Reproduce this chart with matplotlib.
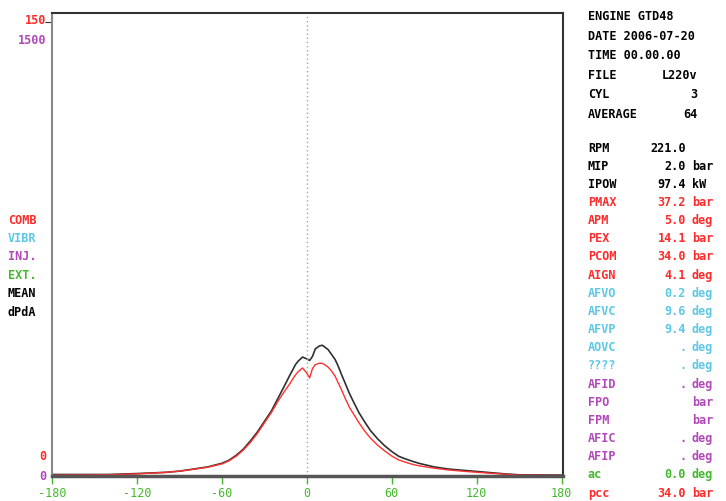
import matplotlib
matplotlib.use("Agg")
import matplotlib.pyplot as plt

# crank angle (deg) and pressure readings
angle = [-180, -140, -120, -100, -90, -80, -70, -60, -55, -50, -45, -40, -35, -30, -25,
         -20, -15, -12, -10, -8, -6, -3, 0, 2, 4, 6, 9, 11, 13, 15, 17, 20, 22, 25,
         27, 30, 33, 37, 41, 45, 50, 55, 60, 65, 70, 75, 80, 90, 100, 115, 130, 140,
         150, 180]
mean_p = [0.5, 0.5, 0.8, 1.2, 1.6, 2.3, 3.0, 4.2, 5.2, 6.8, 8.8, 11.5, 14.5, 18, 21.5,
          26, 30.5, 33.3, 35, 36.8, 38, 39.3, 38.7, 38.2, 39.5, 42, 43, 43.2, 42.5,
          41.8, 40.5, 38.5, 36.5, 33, 30.8, 27.4, 24.5, 20.8, 17.8, 15, 12.3, 10, 8.1,
          6.5, 5.6, 4.8, 4.1, 3, 2.3, 1.7, 1.1, 0.7, 0.4, 0.3]
comb_p = [0.3, 0.4, 0.7, 1.2, 1.6, 2.2, 2.9, 4.0, 5.0, 6.5, 8.5, 11, 14, 17.5, 21,
          25, 28.5, 30.5, 32, 33.4, 34.5, 35.7, 34, 32.4, 35.5, 36.8, 37.3, 37.2, 36.7,
          36, 35, 33, 31, 28, 25.8, 22.8, 20.5, 17.5, 14.8, 12.5, 10.2, 8.3, 6.6,
          5.3, 4.5, 3.8, 3.3, 2.6, 2, 1.4, 0.9, 0.6, 0.3, 0.2]

xticks = [-180, -120, -60, 0, 60, 120, 180]

channels = ["COMB", "VIBR", "INJ.", "EXT.", "MEAN", "dPdA"]
channel_colors = ["#ff2a2a", "#5cc8e6", "#b048b8", "#44b82c", "#000000", "#000000"]

header = [("ENGINE GTD48", ""), ("DATE 2006-07-20", ""), ("TIME 00.00.00", ""),
          ("FILE", "L220v"), ("CYL", "3"), ("AVERAGE", "64")]

rows = ["RPM", "MIP", "IPOW", "PMAX", "APM", "PEX", "PCOM", "AIGN", "AFVO", "AFVC",
        "AFVP", "AOVC", "????", "AFID", "FPO", "FPM", "AFIC", "AFIP", "ac", "pcc"]
row_vals = ["221.0", "2.0", "97.4", "37.2", "5.0", "14.1", "34.0", "4.1", "0.2", "9.6",
            "9.4", ".", ".", ".", "", "", ".", ".", "0.0", "34.0"]
row_units = ["", "bar", "kW", "bar", "deg", "bar", "bar", "deg", "deg", "deg",
             "deg", "deg", "deg", "deg", "bar", "bar", "deg", "deg", "deg", "bar"]
RED, CYAN, MAG, GRN = "#ff2a2a", "#5cc8e6", "#b048b8", "#44b82c"
row_colors = ["#000000"] * 3 + [RED] * 5 + [CYAN] * 5 + [MAG] * 5 + [GRN, RED]

W, H = 726, 501
fig = plt.figure(figsize=(W / 100, H / 100), dpi=100)
ax = fig.add_axes([52 / W, 1 - 476 / H, (563 - 52) / W, (476 - 13) / H])

ax.plot(angle, mean_p, color="#303030", lw=1.2, solid_joinstyle="round")
ax.plot(angle, comb_p, color="#ff3030", lw=1.0, solid_joinstyle="round")
ax.axvline(0, color="#8cbf5a", lw=1, ls=(0, (1, 2)))

ax.set_xlim(-180, 181)
ax.set_ylim(0, 153)
ax.set_xticks(xticks)
ax.set_xticklabels([str(v) for v in xticks], family="DejaVu Sans Mono",
                   fontsize=8.5, color=GRN)
ax.tick_params(axis="x", colors=GRN, length=6, width=1, labelcolor=GRN, pad=2)
ax.set_yticks([150])
ax.set_yticklabels([""])
ax.tick_params(axis="y", length=5, color="#333333")
for s in ["top", "right"]:
    ax.spines[s].set_color("#333333")
    ax.spines[s].set_linewidth(1.5)
ax.spines["left"].set_color("#888888")
ax.spines["left"].set_linewidth(1.5)
ax.spines["bottom"].set_color("#555555")
ax.spines["bottom"].set_linewidth(2.5)

mono = dict(family="DejaVu Sans Mono", fontsize=8.5, fontweight="bold")

def fy(py):
    return 1 - py / H

fig.text(46 / W, fy(20), "150", color=RED, ha="right", va="center", **mono)
fig.text(46 / W, fy(40), "1500", color="#b048b8", ha="right", va="center", **mono)
fig.text(46 / W, fy(457), "0", color=RED, ha="right", va="center", **mono)
fig.text(46 / W, fy(476), "0", color="#b048b8", ha="right", va="center", **mono)

for i, (name, c) in enumerate(zip(channels, channel_colors)):
    fig.text(8 / W, fy(220 + i * 18.4), name, color=c, ha="left", va="center", **mono)

for i, (lab, val) in enumerate(header):
    y = fy(17 + i * 19.4)
    fig.text(588 / W, y, lab, color="black", ha="left", va="center", **mono)
    if val:
        fig.text(697 / W, y, val, color="black", ha="right", va="center", **mono)

for i, (lab, val, unit, c) in enumerate(zip(rows, row_vals, row_units, row_colors)):
    y = fy(148 + i * 18.16)
    fig.text(588 / W, y, lab, color=c, ha="left", va="center", **mono)
    fig.text(686 / W, y, val, color=c, ha="right", va="center", **mono)
    fig.text(692 / W, y, unit, color=c, ha="left", va="center", **mono)

fig.savefig("out.png", dpi=100)
